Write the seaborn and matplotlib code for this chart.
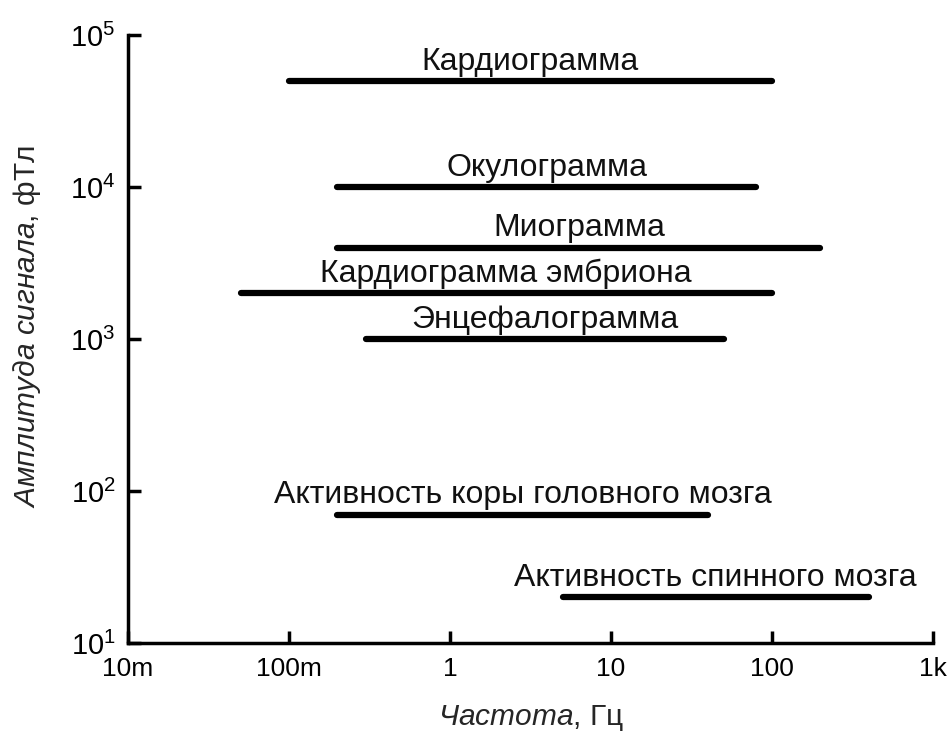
import numpy as np
import pandas as pd
import seaborn as sns
import matplotlib.pyplot as plt
import matplotlib.ticker as ticker

# signal sources: frequency range (Hz) and typical amplitude (fT)
names = ['Кардиограмма', 'Окулограмма', 'Миограмма', 'Кардиограмма эмбриона',
         'Энцефалограмма', 'Активность коры головного мозга', 'Активность спинного мозга']
freq_low = [0.1, 0.2, 0.2, 0.05, 0.3, 0.2, 5]
freq_high = [100, 80, 200, 100, 50, 40, 400]
amplitude = [5e4, 1e4, 4e3, 2e3, 1e3, 70, 20]

x_ticks = [0.01, 0.1, 1, 10, 100, 1000]
x_tick_labels = ['10m', '100m', '1', '10', '100', '1k']
y_ticks = [10, 100, 1000, 10000, 100000]

sns.set_style('ticks')
plt.rcParams['font.family'] = ['Liberation Sans', 'DejaVu Sans']
plt.rcParams['mathtext.fontset'] = 'custom'
plt.rcParams['mathtext.rm'] = 'Liberation Sans'
plt.rcParams['mathtext.it'] = 'Liberation Sans:italic'

# long-form table: two points per segment
df = pd.DataFrame({
    'name': names + names,
    'freq': freq_low + freq_high,
    'amp': amplitude + amplitude,
})

fig = plt.figure(figsize=(9.5, 7.42), dpi=100)
ax = fig.add_axes([0.1347, 0.1334, 0.8474, 0.8194])

sns.lineplot(data=df, x='freq', y='amp', hue='name', units='name', estimator=None,
             palette=['black'] * len(names), linewidth=4.5, legend=False, ax=ax,
             solid_capstyle='round')

ax.set_xscale('log')
ax.set_yscale('log')
ax.set_xlim(0.01, 1000)
ax.set_ylim(10, 100000)

for name, lo, hi, a in zip(names, freq_low, freq_high, amplitude):
    ax.annotate(name, (np.sqrt(lo * hi), a), xytext=(0, 3), textcoords='offset points',
                ha='center', va='bottom', fontsize=23, color='#111111')

ax.xaxis.set_major_locator(ticker.FixedLocator(x_ticks))
ax.xaxis.set_minor_locator(ticker.NullLocator())
ax.set_xticklabels(x_tick_labels)
ax.yaxis.set_major_locator(ticker.FixedLocator(y_ticks))
ax.yaxis.set_minor_locator(ticker.NullLocator())
ax.set_yticklabels([r'$10^{%d}$' % int(np.log10(v)) for v in y_ticks])

ax.tick_params(direction='in', length=9, width=2.5, pad=10, colors='black')
ax.tick_params(axis='x', labelsize=19)
ax.tick_params(axis='y', labelsize=21, pad=9)
for side in ['left', 'bottom']:
    ax.spines[side].set_linewidth(2.5)
    ax.spines[side].set_color('black')
sns.despine(ax=ax)

ax.set_xlabel(r'$\mathit{Частота}$, Гц', fontsize=21.5, labelpad=16)
ax.set_ylabel(r'$\mathit{Амплитуда\ сигнала}$, фТл', fontsize=21.5)
ax.yaxis.set_label_coords(-0.105, 0.521)

fig.savefig('out.png', dpi=100)
